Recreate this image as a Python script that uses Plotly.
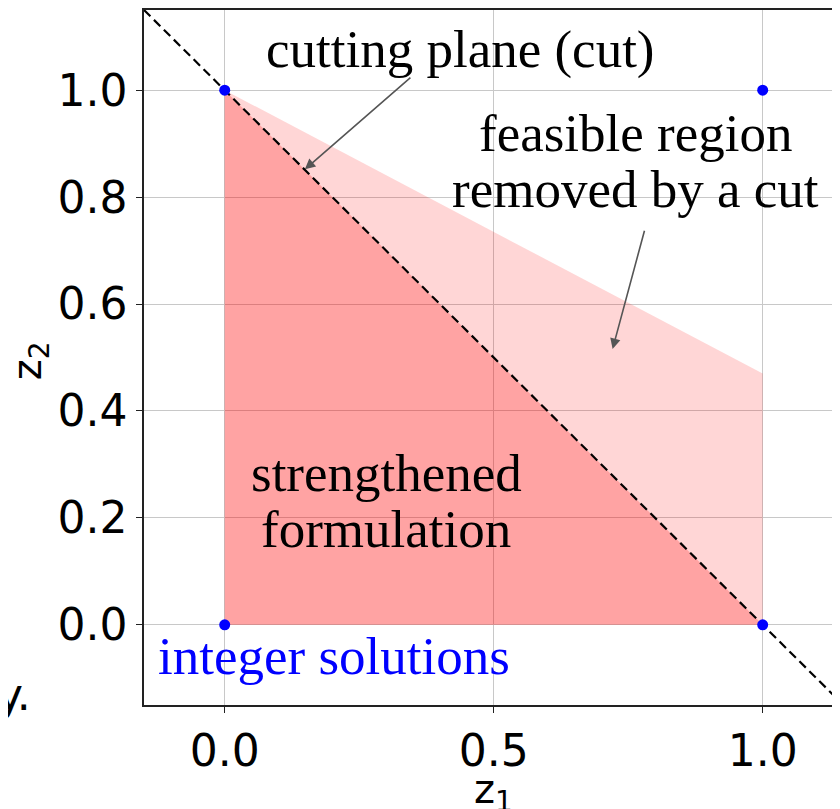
import plotly.graph_objects as go

# ---- data ----
integer_z1 = [0, 0, 1, 1]
integer_z2 = [0, 1, 0, 1]

lp_region_z1 = [0, 0, 1, 1]
lp_region_z2 = [0, 1, 0.47, 0]

strong_z1 = [0, 0, 1]
strong_z2 = [0, 1, 0]

cut_line_z1 = [-0.15, 1.15]
cut_line_z2 = [1.15, -0.15]

x_ticks = [0.0, 0.5, 1.0]
y_ticks = [0.0, 0.2, 0.4, 0.6, 0.8, 1.0]

SERIF = "Liberation Serif"
SANS = "DejaVu Sans"
TXT = 53

fig = go.Figure()

fig.add_trace(go.Scatter(
    x=lp_region_z1, y=lp_region_z2, fill="toself", mode="none",
    fillcolor="rgba(255,0,0,0.16)", hoverinfo="skip", showlegend=False))
fig.add_trace(go.Scatter(
    x=strong_z1, y=strong_z2, fill="toself", mode="none",
    fillcolor="rgba(255,0,0,0.24)", hoverinfo="skip", showlegend=False))
fig.add_trace(go.Scatter(
    x=cut_line_z1, y=cut_line_z2, mode="lines",
    line=dict(color="black", width=2.2, dash="9px,5px"), showlegend=False))
fig.add_trace(go.Scatter(
    x=integer_z1, y=integer_z2, mode="markers",
    marker=dict(color="blue", size=11), showlegend=False, cliponaxis=False))

def txt(x, y, s, color="black", xanchor="center"):
    fig.add_annotation(x=x, y=y, xref="x", yref="y", text=s, showarrow=False,
                       font=dict(family=SERIF, size=TXT, color=color),
                       xanchor=xanchor, yanchor="middle")

txt(0.439, 1.077, "cutting plane (cut)")
txt(0.764, 0.92, "feasible region")
txt(0.764, 0.815, "removed by a cut")
txt(0.30, 0.284, "strengthened")
txt(0.30, 0.179, "formulation")
txt(-0.128, -0.058, "integer solutions", color="blue", xanchor="left")

def arrow(x, y, ax, ay):
    fig.add_annotation(x=x, y=y, ax=ax, ay=ay, xref="x", yref="y",
                       axref="x", ayref="y", text="", showarrow=True,
                       arrowhead=2, arrowsize=1.3, arrowwidth=1.6,
                       arrowcolor="#555555")

arrow(0.149, 0.852, 0.348, 1.026)
arrow(0.721, 0.516, 0.781, 0.740)

# axis titles
fig.add_annotation(x=0.5, y=-0.125, xref="x", yref="paper",
                   text="z<sub>1</sub>", showarrow=False,
                   font=dict(family=SANS, size=40, color="black"),
                   xanchor="center", yanchor="middle")
fig.add_annotation(x=-0.164, y=0.496, xref="paper", yref="paper",
                   text="z<sub>2</sub>", showarrow=False, textangle=-90,
                   font=dict(family=SANS, size=40, color="black"),
                   xanchor="center", yanchor="middle")
# cropped fragment at left edge
fig.add_annotation(x=-0.16, y=-0.0245, xref="paper", yref="paper",
                   text="y.", showarrow=False,
                   font=dict(family=SANS, size=44, color="black"),
                   xanchor="right", yanchor="bottom")

axis_common = dict(
    showgrid=True, gridcolor="#c8c8c8", gridwidth=1,
    zeroline=False, showline=True, linecolor="#222222", linewidth=1.6,
    ticks="outside", ticklen=6, tickwidth=1.4, tickcolor="#222222",
    tickfont=dict(family=SANS, size=44, color="black"),
    tickformat=".1f",
)

fig.update_xaxes(range=[-0.15, 1.1437], tickvals=x_ticks, mirror=True,
                 **axis_common)
fig.update_yaxes(range=[-0.15, 1.15], tickvals=y_ticks, mirror=False,
                 **axis_common)

fig.update_layout(
    width=832, height=801,
    margin=dict(l=136, r=0, t=2, b=104),
    plot_bgcolor="white", paper_bgcolor="white",
    showlegend=False,
)

fig.write_html("out.html")
